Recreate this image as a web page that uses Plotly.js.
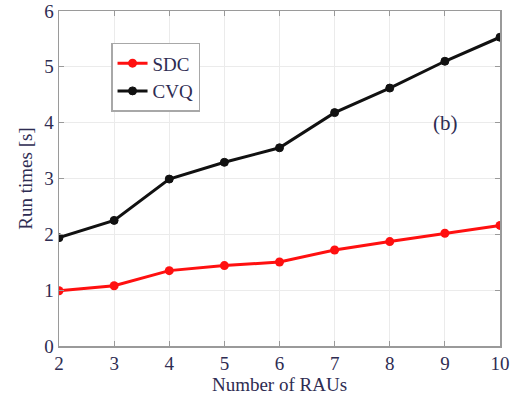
<!DOCTYPE html>
<html><head><meta charset="utf-8">
<script src="https://cdn.plot.ly/plotly-3.0.1.min.js"></script>
<style>html,body{margin:0;padding:0;background:#fff}#chart{width:525px;height:398px}</style>
</head><body><div id="chart"></div>
<script>
const rauCounts = [2, 3, 4, 5, 6, 7, 8, 9, 10];
const sdcTimes = [0.99, 1.08, 1.35, 1.44, 1.505, 1.72, 1.87, 2.02, 2.16];
const cvqTimes = [1.94, 2.25, 2.99, 3.29, 3.55, 4.18, 4.62, 5.10, 5.53];
const xTickVals = [2, 3, 4, 5, 6, 7, 8, 9, 10];
const yTickVals = [0, 1, 2, 3, 4, 5, 6];

const textColor = '#2e2c52';
const fontFam = "Times New Roman, Liberation Serif, DejaVu Serif, Noto Serif, Tinos, Times, serif";

const traces = [
  {x: rauCounts, y: sdcTimes, name: 'SDC', mode: 'lines+markers',
   line: {color: '#ff1010', width: 3}, marker: {color: '#ff1010', size: 9}},
  {x: rauCounts, y: cvqTimes, name: 'CVQ', mode: 'lines+markers',
   line: {color: '#111111', width: 3}, marker: {color: '#111111', size: 8, line: {color: '#111', width: 1}}}
];

const axisCommon = {
  showline: true, linecolor: '#9a9a9a', linewidth: 1.5, mirror: 'ticks',
  showgrid: true, gridcolor: '#ebebeb', gridwidth: 1,
  ticks: 'inside', ticklen: 5, tickcolor: '#9a9a9a',
  zeroline: false,
  tickfont: {family: fontFam, size: 19, color: textColor}
};

const layout = {
  width: 525, height: 398,
  margin: {l: 59, r: 25, t: 11, b: 52},
  paper_bgcolor: '#fff', plot_bgcolor: '#fff',
  font: {family: fontFam, color: textColor},
  showlegend: true,
  legend: {x: 0.118, y: 0.905, xanchor: 'left', yanchor: 'top',
    bgcolor: '#fff', bordercolor: '#a8a8a8', borderwidth: 1.5,
    font: {family: fontFam, size: 19, color: textColor}, tracegroupgap: 0},
  xaxis: Object.assign({}, axisCommon, {range: [2, 10], tickvals: xTickVals,
    title: {text: 'Number of RAUs', font: {family: fontFam, size: 19, color: textColor}, standoff: 2}}),
  yaxis: Object.assign({}, axisCommon, {range: [0, 6], tickvals: yTickVals,
    title: {text: 'Run times [s]', font: {family: fontFam, size: 19, color: textColor}, standoff: 6}}),
  annotations: [{x: 0.91, y: 0.665, xref: 'paper', yref: 'paper', text: '(b)', showarrow: false,
    font: {family: fontFam, size: 21, color: textColor}}]
};

Plotly.newPlot('chart', traces, layout, {displayModeBar: false, staticPlot: true});
</script>
</body></html>
